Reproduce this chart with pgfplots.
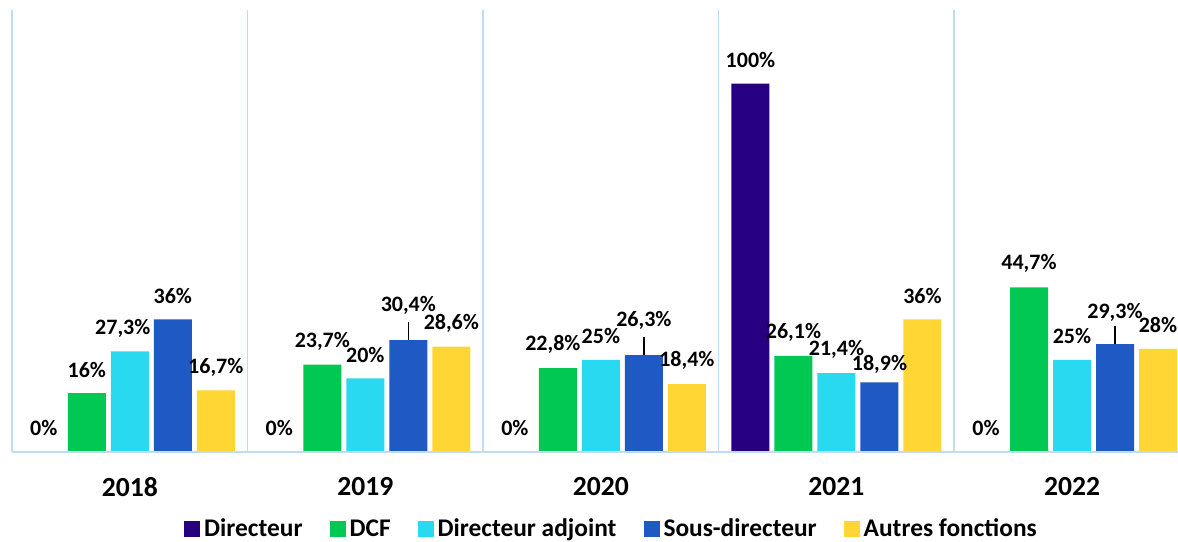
\documentclass[border=0pt]{standalone}
\usepackage{pgfplots}
\usepackage{pgfplotstable}
\pgfplotsset{compat=1.18}
\usepackage{fontspec}
\setmainfont{Carlito}

\definecolor{cDir}{RGB}{38,0,128}
\definecolor{cDCF}{RGB}{0,200,83}
\definecolor{cAdj}{RGB}{41,217,240}
\definecolor{cSous}{RGB}{31,90,196}
\definecolor{cAut}{RGB}{255,214,51}
\definecolor{cGrid}{RGB}{191,219,247}

% x = year index, y = share, dx/dy = label nudge (pt), e = leader line
\pgfplotstableread{
x y dx dy e
0 0 0 0 0
1 0 0 0 0
2 0 0 0 0
3 100 0 0 0
4 0 0 0 0
}\dirtab
\pgfplotstableread{
x y dx dy e
0 16 0 0 0
1 23.7 0 0 0
2 22.8 -2.5 0 0
3 26.1 0 0 0
4 44.7 0 0 0
}\dcftab
\pgfplotstableread{
x y dx dy e
0 27.3 -3.5 0 0
1 20 0 0 0
2 25 0 0 0
3 21.4 0 0 0
4 25 0 0 0
}\adjtab
\pgfplotstableread{
x y dx dy e
0 36 0 0 0
1 30.4 0 5.5 5
2 26.3 0 5.5 5
3 18.9 0 -3 0
4 29.3 0 4 5
}\soustab
\pgfplotstableread{
x y dx dy e
0 16.7 0 0 0
1 28.6 0 0 0
2 18.4 0 0 0
3 36 0 0 0
4 28 0 0 0
}\auttab

\begin{document}
\begin{tikzpicture}
\useasboundingbox (-6pt,-44.5pt) rectangle (583pt,226pt);
\begin{axis}[
    scale only axis,
    width=583pt,
    height=221pt,
    ybar,
    bar width=19pt,
    xmin=-0.5, xmax=4.45,
    ymin=0, ymax=120,
    axis on top,
    axis x line*=bottom,
    axis y line*=left,
    axis line style={cGrid, line width=0.8pt, -},
    ytick=\empty,
    xtick={0,1,2,3,4},
    xticklabels={2018,2019,2020,2021,2022},
    major tick length=0pt,
    minor xtick={0.5,1.5,2.5,3.5},
    minor tick length=0pt,
    xminorgrids=true,
    minor grid style={cGrid, line width=0.8pt},
    xticklabel style={font=\fontsize{13.8}{16}\selectfont\bfseries, yshift=-9pt},
    /pgf/number format/assume math mode=true,
    nodes near coords={\pgfmathprintnumber[use comma,fixed,precision=1]{\pgfplotspointmeta}\%},
    nodes near coords style={font=\fontsize{11}{13}\selectfont\bfseries, anchor=center, yshift=11.75pt},
    visualization depends on={\thisrow{dx} \as \dx},
    visualization depends on={\thisrow{dy} \as \dy},
    every node near coord/.append style={xshift=\dx pt, yshift=\dy pt},
    legend style={at={(0.515,-0.175)}, anchor=center, draw=none, fill=none,
        font=\fontsize{12.7}{14}\selectfont\bfseries,
        /tikz/every even column/.append style={column sep=11.5pt}},
    legend columns=-1,
    legend image code/.code={\fill[#1] (0pt,-4pt) rectangle (8pt,4pt);},
]
\addplot[fill=cDir, draw=none, bar shift=-43pt] table[x=x,y=y] {\dirtab};
\addplot[fill=cDCF, draw=none, bar shift=-21.5pt] table[x=x,y=y] {\dcftab};
\addplot[fill=cAdj, draw=none, bar shift=0pt] table[x=x,y=y] {\adjtab};
\addplot[fill=cSous, draw=none, bar shift=21.5pt,
    error bars/.cd, y dir=plus, y explicit, error mark=none,
    error bar style={black, line width=0.7pt}]
    table[x=x,y=y,y error=e] {\soustab};
\addplot[fill=cAut, draw=none, bar shift=43pt] table[x=x,y=y] {\auttab};
\legend{Directeur, DCF, Directeur adjoint, Sous-directeur, Autres fonctions}
\end{axis}
\end{tikzpicture}
\end{document}
